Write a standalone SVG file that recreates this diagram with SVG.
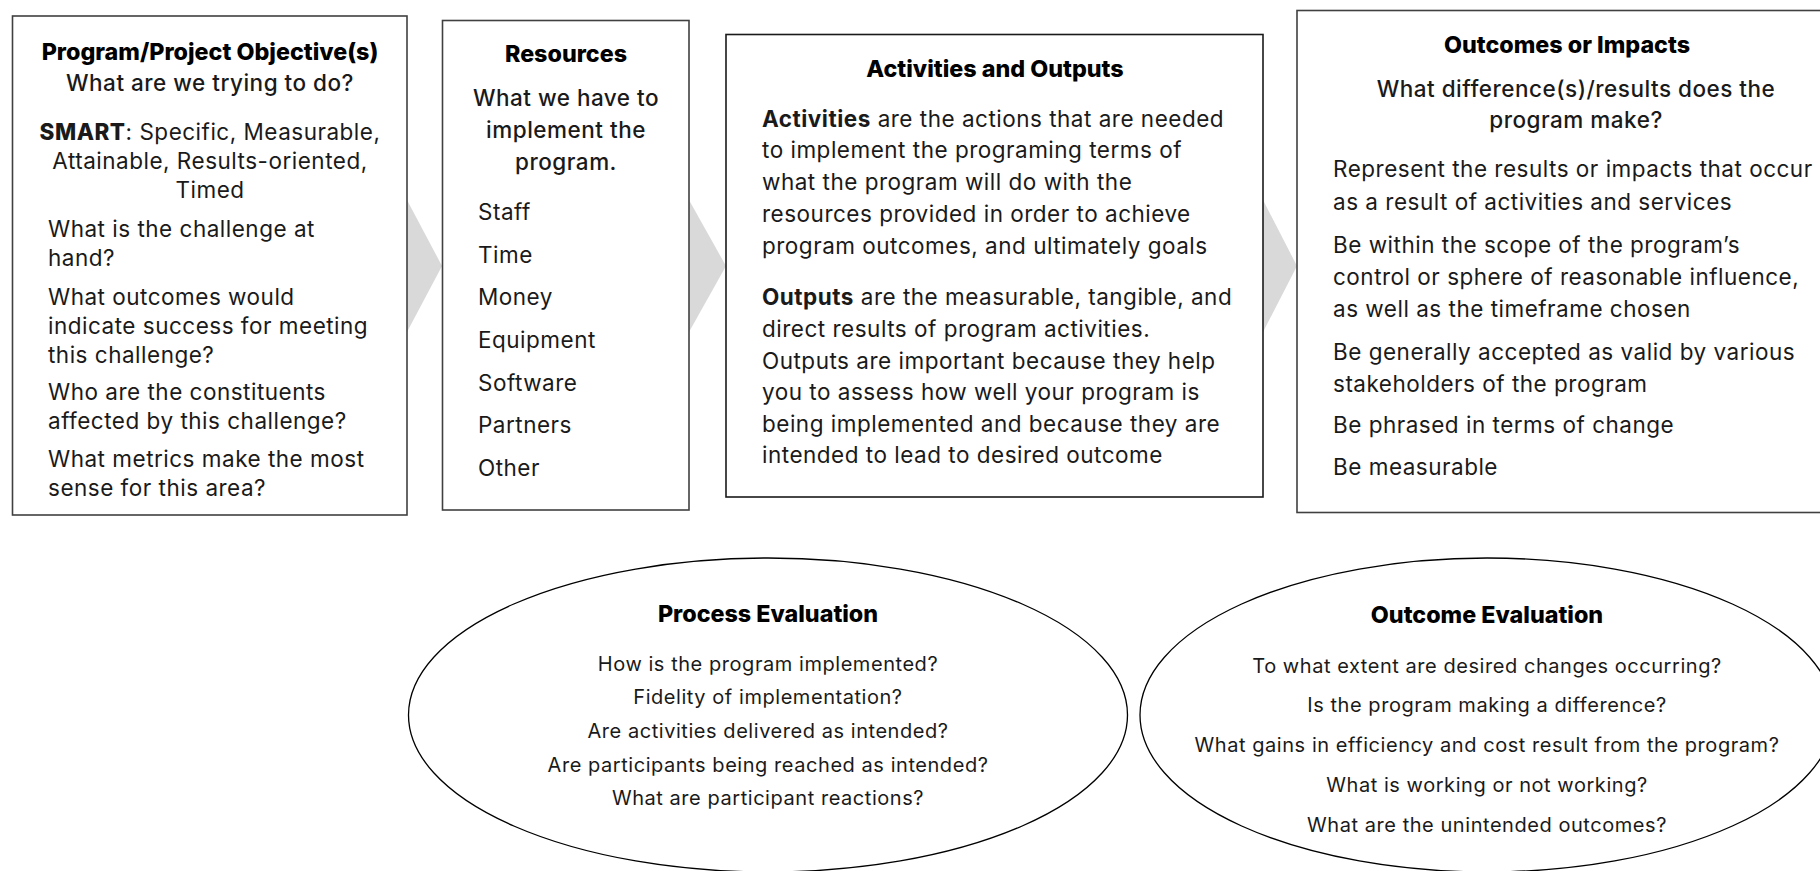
<svg xmlns="http://www.w3.org/2000/svg" width="1820" height="871" viewBox="0 0 1820 871">
  <style>
    text { font-family: Inter, "Noto Sans", "Liberation Sans", sans-serif; fill: #1a1a1a; }
    .box { fill: #ffffff; stroke: #404040; stroke-width: 1.6; }
    .chev { fill: #d9d9d9; }
    .oval { fill: none; stroke: #000000; stroke-width: 1.3; }
    .ttl { font-size: 23.3px; font-weight: 800; fill: #000; }
    .sub { font-size: 22.5px; font-weight: 500; letter-spacing: 0.5px; }
    .body { font-size: 22.5px; font-weight: 400; letter-spacing: 0.5px; }
    .b { font-weight: 700; }
    .xb { font-weight: 800; }
    .otxt { font-size: 20px; font-weight: 400; letter-spacing: 0.55px; }
    .mid { text-anchor: middle; }
  </style>

  <!-- flow chevrons between the stages -->
  <g id="connectors">
    <polygon class="chev" points="400,200 407,200 442,266 407,332 400,332"/>
    <polygon class="chev" points="682,200 689,200 726,266 689,332 682,332"/>
    <polygon class="chev" points="1256,200 1263,200 1297,266 1263,332 1256,332"/>
  </g>

  <g id="objectives">
    <rect class="box" x="12.5" y="16" width="394.5" height="499"/>
    <text class="ttl mid" x="210" y="60">Program/Project Objective(s)</text>
    <text class="sub mid" x="210" y="91">What are we trying to do?</text>
    <text class="body mid" x="210" y="140"><tspan class="xb">SMART</tspan>: Specific, Measurable,</text>
    <text class="body mid" x="210" y="169">Attainable, Results-oriented,</text>
    <text class="body mid" x="210" y="198">Timed</text>
    <text class="body" x="48" y="237">What is the challenge at</text>
    <text class="body" x="48" y="266">hand?</text>
    <text class="body" x="48" y="305">What outcomes would</text>
    <text class="body" x="48" y="334">indicate success for meeting</text>
    <text class="body" x="48" y="363">this challenge?</text>
    <text class="body" x="48" y="400">Who are the constituents</text>
    <text class="body" x="48" y="429">affected by this challenge?</text>
    <text class="body" x="48" y="467">What metrics make the most</text>
    <text class="body" x="48" y="496">sense for this area?</text>
  </g>

  <g id="resources">
    <rect class="box" x="442.5" y="20.5" width="246.5" height="489.5"/>
    <text class="ttl mid" x="566" y="62">Resources</text>
    <text class="sub mid" x="566" y="106">What we have to</text>
    <text class="sub mid" x="566" y="138">implement the</text>
    <text class="sub mid" x="566" y="170">program.</text>
    <text class="body" x="478" y="220">Staff</text>
    <text class="body" x="478" y="262.5">Time</text>
    <text class="body" x="478" y="305">Money</text>
    <text class="body" x="478" y="348">Equipment</text>
    <text class="body" x="478" y="390.5">Software</text>
    <text class="body" x="478" y="433">Partners</text>
    <text class="body" x="478" y="476">Other</text>
  </g>

  <g id="activities">
    <rect class="box" x="726" y="34.5" width="537" height="462.5" style="stroke:#1a1a1a"/>
    <text class="ttl mid" x="995" y="77">Activities and Outputs</text>
    <text class="body" x="762" y="127"><tspan class="b">Activities</tspan> are the actions that are needed</text>
    <text class="body" x="762" y="158">to implement the programing terms of</text>
    <text class="body" x="762" y="190">what the program will do with the</text>
    <text class="body" x="762" y="222">resources provided in order to achieve</text>
    <text class="body" x="762" y="254">program outcomes, and ultimately goals</text>
    <text class="body" x="762" y="305"><tspan class="b">Outputs</tspan> are the measurable, tangible, and</text>
    <text class="body" x="762" y="337">direct results of program activities.</text>
    <text class="body" x="762" y="369">Outputs are important because they help</text>
    <text class="body" x="762" y="400">you to assess how well your program is</text>
    <text class="body" x="762" y="432">being implemented and because they are</text>
    <text class="body" x="762" y="463">intended to lead to desired outcome</text>
  </g>

  <g id="outcomes">
    <rect class="box" x="1297" y="10.5" width="560" height="502"/>
    <text class="ttl mid" x="1567" y="53">Outcomes or Impacts</text>
    <text class="sub mid" x="1576" y="97">What difference(s)/results does the</text>
    <text class="sub mid" x="1576" y="128">program make?</text>
    <text class="body" x="1333" y="177">Represent the results or impacts that occur</text>
    <text class="body" x="1333" y="210">as a result of activities and services</text>
    <text class="body" x="1333" y="253">Be within the scope of the program’s</text>
    <text class="body" x="1333" y="285">control or sphere of reasonable influence,</text>
    <text class="body" x="1333" y="317">as well as the timeframe chosen</text>
    <text class="body" x="1333" y="360">Be generally accepted as valid by various</text>
    <text class="body" x="1333" y="392">stakeholders of the program</text>
    <text class="body" x="1333" y="433">Be phrased in terms of change</text>
    <text class="body" x="1333" y="475">Be measurable</text>
  </g>

  <g id="process-evaluation">
    <ellipse class="oval" cx="768" cy="715" rx="359.5" ry="157"/>
    <text class="ttl mid" x="768" y="622">Process Evaluation</text>
    <text class="otxt mid" x="768" y="671">How is the program implemented?</text>
    <text class="otxt mid" x="768" y="704">Fidelity of implementation?</text>
    <text class="otxt mid" x="768" y="738">Are activities delivered as intended?</text>
    <text class="otxt mid" x="768" y="771.5">Are participants being reached as intended?</text>
    <text class="otxt mid" x="768" y="805">What are participant reactions?</text>
  </g>

  <g id="outcome-evaluation">
    <ellipse class="oval" cx="1487" cy="715" rx="347" ry="157"/>
    <text class="ttl mid" x="1487" y="623">Outcome Evaluation</text>
    <text class="otxt mid" x="1487" y="673">To what extent are desired changes occurring?</text>
    <text class="otxt mid" x="1487" y="712">Is the program making a difference?</text>
    <text class="otxt mid" x="1487" y="752">What gains in efficiency and cost result from the program?</text>
    <text class="otxt mid" x="1487" y="792">What is working or not working?</text>
    <text class="otxt mid" x="1487" y="832">What are the unintended outcomes?</text>
  </g>
</svg>
